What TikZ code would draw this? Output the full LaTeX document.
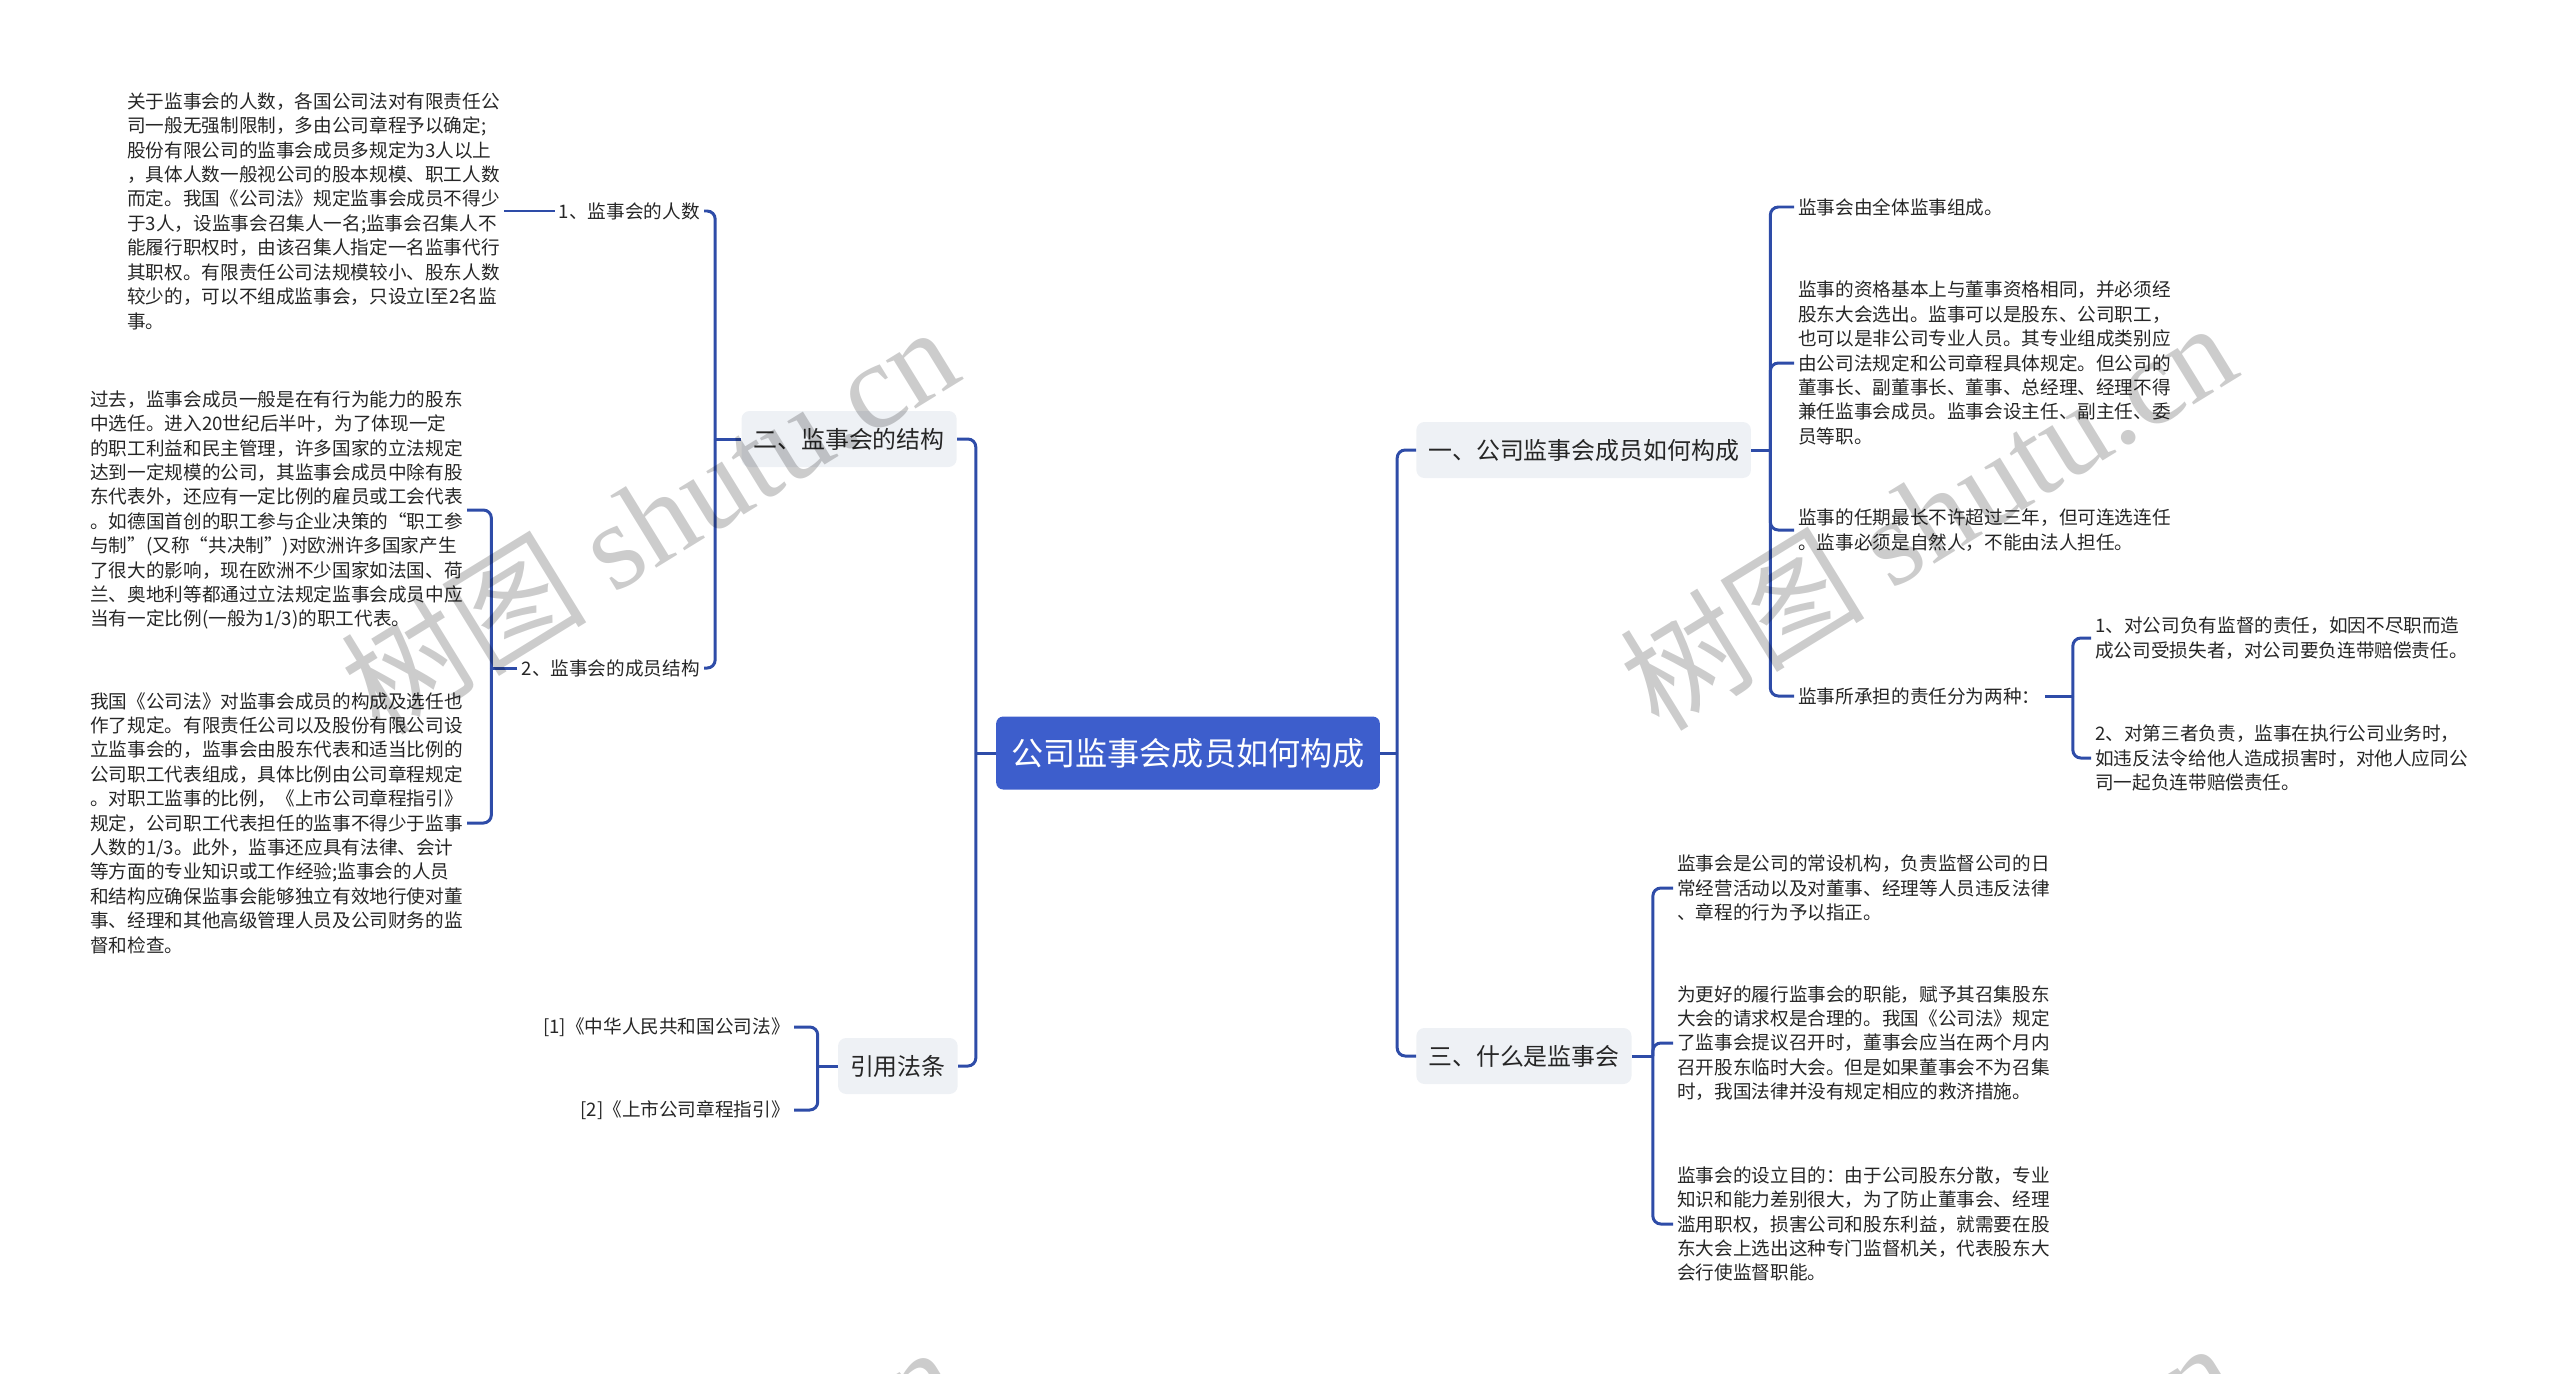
\documentclass[tikz,border=0pt]{standalone}
\usepackage{fontspec}
\setmainfont{Noto Sans CJK SC}
\newfontfamily\wmfont{Liberation Serif}
\usepackage{tikz}
\usetikzlibrary{positioning,calc}
\definecolor{rootblue}{RGB}{61,94,204}
\definecolor{linkblue}{RGB}{46,76,168}
\definecolor{topicgray}{RGB}{238,241,245}
\definecolor{textdark}{RGB}{38,38,38}

\tikzset{
  rootnode/.style={rectangle, rounded corners=0.14cm, fill=rootblue, text=white,
    font=\fontsize{18.3pt}{22pt}\selectfont, inner xsep=0.3cm, minimum height=1.46cm},
  topic/.style={rectangle, rounded corners=0.16cm, fill=topicgray, text=textdark,
    font=\fontsize{13.6pt}{16pt}\selectfont, inner xsep=0.24cm, minimum height=1.12cm},
  leaf/.style={align=left, text=textdark, font=\fontsize{10.6pt}{13.9pt}\selectfont, inner sep=0.08cm},
  branch/.style={draw=linkblue, line width=1.7pt, rounded corners=0.16cm},
  wmark/.style={text=black, opacity=0.2, rotate=31.6, font=\fontsize{70pt}{70pt}\selectfont}
}

\begin{document}
\begin{tikzpicture}[x=0.02cm, y=-0.02cm]
\useasboundingbox (0,0) rectangle (2560,1373);
\clip (0,0) rectangle (2560,1373);

% centre and main topics
\node[rootnode] (root) at (1188,753) {公司监事会成员如何构成};
\node[topic, anchor=west] (t1) at (1416,450) {一、公司监事会成员如何构成};
\node[topic, anchor=west] (t3) at (1416,1056) {三、什么是监事会};
\node[topic, anchor=east] (t2) at (957,439) {二、监事会的结构};
\node[topic, anchor=east] (refs) at (958,1066) {引用法条};

% right: 一
\node[leaf, anchor=west] (a1) at (1794,207) {监事会由全体监事组成。};
\node[leaf, anchor=west] (a2) at (1794,363) {监事的资格基本上与董事资格相同，并必须经\\
股东大会选出。监事可以是股东、公司职工，\\
也可以是非公司专业人员。其专业组成类别应\\
由公司法规定和公司章程具体规定。但公司的\\
董事长、副董事长、董事、总经理、经理不得\\
兼任监事会成员。监事会设主任、副主任、委\\
员等职。};
\node[leaf, anchor=west] (a3) at (1794,530) {监事的任期最长不许超过三年，但可连选连任\\
。监事必须是自然人，不能由法人担任。};
\node[leaf, anchor=west] (a4) at (1794,696) {监事所承担的责任分为两种：};
\node[leaf, anchor=west] (a4x) at (2091,638) {1、对公司负有监督的责任，如因不尽职而造\\
成公司受损失者，对公司要负连带赔偿责任。};
\node[leaf, anchor=west] (a4y) at (2091,758) {2、对第三者负责，监事在执行公司业务时，\\
如违反法令给他人造成损害时，对他人应同公\\
司一起负连带赔偿责任。};

% right: 三
\node[leaf, anchor=west] (c1) at (1673,888) {监事会是公司的常设机构，负责监督公司的日\\
常经营活动以及对董事、经理等人员违反法律\\
、章程的行为予以指正。};
\node[leaf, anchor=west] (c2) at (1673,1043) {为更好的履行监事会的职能，赋予其召集股东\\
大会的请求权是合理的。我国《公司法》规定\\
了监事会提议召开时，董事会应当在两个月内\\
召开股东临时大会。但是如果董事会不为召集\\
时，我国法律并没有规定相应的救济措施。};
\node[leaf, anchor=west] (c3) at (1673,1224) {监事会的设立目的：由于公司股东分散，专业\\
知识和能力差别很大，为了防止董事会、经理\\
滥用职权，损害公司和股东利益，就需要在股\\
东大会上选出这种专门监督机关，代表股东大\\
会行使监督职能。};

% left: 二
\node[leaf, anchor=east] (b1) at (704,211) {1、监事会的人数};
\node[leaf, anchor=east] (b2) at (704,668) {2、监事会的成员结构};
\node[leaf, anchor=west] (b1x) at (123,211) {关于监事会的人数，各国公司法对有限责任公\\
司一般无强制限制，多由公司章程予以确定;\\
股份有限公司的监事会成员多规定为3人以上\\
，具体人数一般视公司的股本规模、职工人数\\
而定。我国《公司法》规定监事会成员不得少\\
于3人，设监事会召集人一名;监事会召集人不\\
能履行职权时，由该召集人指定一名监事代行\\
其职权。有限责任公司法规模较小、股东人数\\
较少的，可以不组成监事会，只设立l至2名监\\
事。};
\node[leaf, anchor=west] (b2x) at (86,510) {过去，监事会成员一般是在有行为能力的股东\\
中选任。进入20世纪后半叶，为了体现一定\\
的职工利益和民主管理，许多国家的立法规定\\
达到一定规模的公司，其监事会成员中除有股\\
东代表外，还应有一定比例的雇员或工会代表\\
。如德国首创的职工参与企业决策的“职工参\\
与制”(又称“共决制”)对欧洲许多国家产生\\
了很大的影响，现在欧洲不少国家如法国、荷\\
兰、奥地利等都通过立法规定监事会成员中应\\
当有一定比例(一般为1/3)的职工代表。};
\node[leaf, anchor=west] (b2y) at (86,823) {我国《公司法》对监事会成员的构成及选任也\\
作了规定。有限责任公司以及股份有限公司设\\
立监事会的，监事会由股东代表和适当比例的\\
公司职工代表组成，具体比例由公司章程规定\\
。对职工监事的比例，《上市公司章程指引》\\
规定，公司职工代表担任的监事不得少于监事\\
人数的1/3。此外，监事还应具有法律、会计\\
等方面的专业知识或工作经验;监事会的人员\\
和结构应确保监事会能够独立有效地行使对董\\
事、经理和其他高级管理人员及公司财务的监\\
督和检查。};

% left: 引用法条
\node[leaf, anchor=east] (d1) at (794,1027) {[1]《中华人民共和国公司法》};
\node[leaf, anchor=east] (d2) at (794,1110) {[2]《上市公司章程指引》};

% connectors
\coordinate (jr) at ($(root.east)+(17,0)$);
\coordinate (jl) at ($(root.west)+(-20,0)$);
\draw[branch] (root.east) -- (jr);
\draw[branch] (jr) |- (t1.west);
\draw[branch] (jr) |- (t3.west);
\draw[branch] (root.west) -- (jl);
\draw[branch] (jl) |- (t2.east);
\draw[branch] (jl) |- (refs.east);

\coordinate (ja) at ($(t1.east)+(19,0)$);
\draw[branch] (t1.east) -- (ja);
\foreach \n in {a1,a2,a3,a4}
  \draw[branch] (ja) |- (\n.west);
\coordinate (jd) at ($(a4.east)+(28,0)$);
\draw[branch] (a4.east) -- (jd);
\foreach \n in {a4x,a4y}
  \draw[branch] (jd) |- (\n.west);

\coordinate (je) at ($(t3.east)+(21,0)$);
\draw[branch] (t3.east) -- (je);
\foreach \n in {c1,c2,c3}
  \draw[branch] (je) |- (\n.west);

\coordinate (jb) at ($(t2.west)+(-26,0)$);
\draw[branch] (t2.west) -- (jb);
\foreach \n in {b1,b2}
  \draw[branch] (jb) |- (\n.east);
\draw[branch] (b1x.east) -- (b1.west);
\coordinate (jc) at ($(b2.west)+(-26,0)$);
\draw[branch] (b2.west) -- (jc);
\foreach \n in {b2x,b2y}
  \draw[branch] (jc) |- (\n.east);

\coordinate (jf) at ($(refs.west)+(-20,0)$);
\draw[branch] (refs.west) -- (jf);
\foreach \n in {d1,d2}
  \draw[branch] (jf) |- (\n.east);

% watermark
\node[wmark] (wm1) at (649,518) {树图 {\wmfont shutu.cn}};
\node[wmark] (wm2) at (1927,514) {树图 {\wmfont shutu.cn}};
\node[wmark] (wm3) at (649,1538) {树图 {\wmfont shutu.cn}};
\node[wmark] (wm4) at (1927,1534) {树图 {\wmfont shutu.cn}};
\end{tikzpicture}
\end{document}
